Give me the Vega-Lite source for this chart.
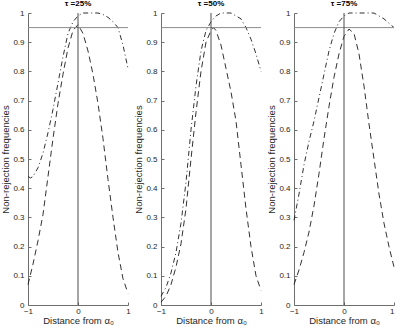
{
  "$schema": "https://vega.github.io/schema/vega-lite/v6.json",
  "padding": {"left": 0, "top": 0, "right": 0, "bottom": 0},
  "background": "white",
  "datasets": {
    "curves": [
      {"p":"25","s":"dash","x":-1,"y":0.07},{"p":"25","s":"dash","x":-0.9,"y":0.14},{"p":"25","s":"dash","x":-0.8,"y":0.22},{"p":"25","s":"dash","x":-0.7,"y":0.31},{"p":"25","s":"dash","x":-0.6,"y":0.44},{"p":"25","s":"dash","x":-0.5,"y":0.57},{"p":"25","s":"dash","x":-0.4,"y":0.69},{"p":"25","s":"dash","x":-0.3,"y":0.79},{"p":"25","s":"dash","x":-0.2,"y":0.88},{"p":"25","s":"dash","x":-0.1,"y":0.94},{"p":"25","s":"dash","x":0,"y":0.96},{"p":"25","s":"dash","x":0.1,"y":0.93},{"p":"25","s":"dash","x":0.2,"y":0.87},{"p":"25","s":"dash","x":0.3,"y":0.79},{"p":"25","s":"dash","x":0.4,"y":0.69},{"p":"25","s":"dash","x":0.5,"y":0.57},{"p":"25","s":"dash","x":0.6,"y":0.43},{"p":"25","s":"dash","x":0.7,"y":0.30},{"p":"25","s":"dash","x":0.8,"y":0.18},{"p":"25","s":"dash","x":0.9,"y":0.09},{"p":"25","s":"dash","x":1,"y":0.04},
      {"p":"25","s":"dashdot","x":-1,"y":0.44},{"p":"25","s":"dashdot","x":-0.95,"y":0.435},{"p":"25","s":"dashdot","x":-0.9,"y":0.44},{"p":"25","s":"dashdot","x":-0.8,"y":0.47},{"p":"25","s":"dashdot","x":-0.7,"y":0.52},{"p":"25","s":"dashdot","x":-0.6,"y":0.59},{"p":"25","s":"dashdot","x":-0.5,"y":0.67},{"p":"25","s":"dashdot","x":-0.4,"y":0.76},{"p":"25","s":"dashdot","x":-0.3,"y":0.85},{"p":"25","s":"dashdot","x":-0.2,"y":0.93},{"p":"25","s":"dashdot","x":-0.1,"y":0.97},{"p":"25","s":"dashdot","x":0,"y":0.99},{"p":"25","s":"dashdot","x":0.1,"y":1.0},{"p":"25","s":"dashdot","x":0.2,"y":1.0},{"p":"25","s":"dashdot","x":0.3,"y":1.0},{"p":"25","s":"dashdot","x":0.4,"y":1.0},{"p":"25","s":"dashdot","x":0.5,"y":0.995},{"p":"25","s":"dashdot","x":0.6,"y":0.985},{"p":"25","s":"dashdot","x":0.7,"y":0.97},{"p":"25","s":"dashdot","x":0.8,"y":0.95},{"p":"25","s":"dashdot","x":0.9,"y":0.89},{"p":"25","s":"dashdot","x":1,"y":0.81},
      {"p":"50","s":"dash","x":-1,"y":0.01},{"p":"50","s":"dash","x":-0.9,"y":0.03},{"p":"50","s":"dash","x":-0.8,"y":0.07},{"p":"50","s":"dash","x":-0.7,"y":0.13},{"p":"50","s":"dash","x":-0.6,"y":0.21},{"p":"50","s":"dash","x":-0.5,"y":0.33},{"p":"50","s":"dash","x":-0.4,"y":0.50},{"p":"50","s":"dash","x":-0.3,"y":0.66},{"p":"50","s":"dash","x":-0.2,"y":0.80},{"p":"50","s":"dash","x":-0.1,"y":0.90},{"p":"50","s":"dash","x":0,"y":0.94},{"p":"50","s":"dash","x":0.05,"y":0.95},{"p":"50","s":"dash","x":0.1,"y":0.94},{"p":"50","s":"dash","x":0.2,"y":0.89},{"p":"50","s":"dash","x":0.3,"y":0.81},{"p":"50","s":"dash","x":0.4,"y":0.73},{"p":"50","s":"dash","x":0.5,"y":0.63},{"p":"50","s":"dash","x":0.6,"y":0.48},{"p":"50","s":"dash","x":0.7,"y":0.33},{"p":"50","s":"dash","x":0.8,"y":0.20},{"p":"50","s":"dash","x":0.9,"y":0.10},{"p":"50","s":"dash","x":1,"y":0.05},
      {"p":"50","s":"dashdot","x":-1,"y":0.03},{"p":"50","s":"dashdot","x":-0.9,"y":0.06},{"p":"50","s":"dashdot","x":-0.8,"y":0.11},{"p":"50","s":"dashdot","x":-0.7,"y":0.18},{"p":"50","s":"dashdot","x":-0.6,"y":0.28},{"p":"50","s":"dashdot","x":-0.5,"y":0.42},{"p":"50","s":"dashdot","x":-0.4,"y":0.60},{"p":"50","s":"dashdot","x":-0.3,"y":0.75},{"p":"50","s":"dashdot","x":-0.2,"y":0.87},{"p":"50","s":"dashdot","x":-0.1,"y":0.94},{"p":"50","s":"dashdot","x":0,"y":0.97},{"p":"50","s":"dashdot","x":0.1,"y":0.99},{"p":"50","s":"dashdot","x":0.2,"y":1.0},{"p":"50","s":"dashdot","x":0.3,"y":1.0},{"p":"50","s":"dashdot","x":0.4,"y":1.0},{"p":"50","s":"dashdot","x":0.5,"y":0.99},{"p":"50","s":"dashdot","x":0.6,"y":0.98},{"p":"50","s":"dashdot","x":0.7,"y":0.95},{"p":"50","s":"dashdot","x":0.8,"y":0.91},{"p":"50","s":"dashdot","x":0.9,"y":0.86},{"p":"50","s":"dashdot","x":1,"y":0.80},
      {"p":"75","s":"dash","x":-1,"y":0.07},{"p":"75","s":"dash","x":-0.9,"y":0.12},{"p":"75","s":"dash","x":-0.8,"y":0.18},{"p":"75","s":"dash","x":-0.7,"y":0.25},{"p":"75","s":"dash","x":-0.6,"y":0.34},{"p":"75","s":"dash","x":-0.5,"y":0.45},{"p":"75","s":"dash","x":-0.4,"y":0.57},{"p":"75","s":"dash","x":-0.3,"y":0.68},{"p":"75","s":"dash","x":-0.2,"y":0.78},{"p":"75","s":"dash","x":-0.1,"y":0.86},{"p":"75","s":"dash","x":0,"y":0.92},{"p":"75","s":"dash","x":0.1,"y":0.945},{"p":"75","s":"dash","x":0.2,"y":0.93},{"p":"75","s":"dash","x":0.3,"y":0.86},{"p":"75","s":"dash","x":0.4,"y":0.75},{"p":"75","s":"dash","x":0.5,"y":0.62},{"p":"75","s":"dash","x":0.6,"y":0.50},{"p":"75","s":"dash","x":0.7,"y":0.38},{"p":"75","s":"dash","x":0.8,"y":0.28},{"p":"75","s":"dash","x":0.9,"y":0.20},{"p":"75","s":"dash","x":1,"y":0.13},
      {"p":"75","s":"dashdot","x":-1,"y":0.29},{"p":"75","s":"dashdot","x":-0.9,"y":0.38},{"p":"75","s":"dashdot","x":-0.8,"y":0.48},{"p":"75","s":"dashdot","x":-0.7,"y":0.56},{"p":"75","s":"dashdot","x":-0.6,"y":0.63},{"p":"75","s":"dashdot","x":-0.5,"y":0.71},{"p":"75","s":"dashdot","x":-0.4,"y":0.79},{"p":"75","s":"dashdot","x":-0.3,"y":0.87},{"p":"75","s":"dashdot","x":-0.2,"y":0.93},{"p":"75","s":"dashdot","x":-0.1,"y":0.97},{"p":"75","s":"dashdot","x":0,"y":0.99},{"p":"75","s":"dashdot","x":0.1,"y":1.0},{"p":"75","s":"dashdot","x":0.2,"y":1.0},{"p":"75","s":"dashdot","x":0.3,"y":1.0},{"p":"75","s":"dashdot","x":0.4,"y":1.0},{"p":"75","s":"dashdot","x":0.5,"y":1.0},{"p":"75","s":"dashdot","x":0.6,"y":1.0},{"p":"75","s":"dashdot","x":0.7,"y":0.99},{"p":"75","s":"dashdot","x":0.8,"y":0.98},{"p":"75","s":"dashdot","x":0.9,"y":0.965},{"p":"75","s":"dashdot","x":1,"y":0.95}
    ]
  },
  "spacing": 33,
  "bounds": "flush",
  "hconcat": [
    {
      "width": 100, "height": 292,
      "title": {"text": "τ =25%", "frame": "group"},
      "layer": [
        {"data": {"name": "curves"}, "transform": [{"filter": "datum.p == '25'"}],
         "mark": {"type": "line", "color": "#1a1a1a", "strokeWidth": 0.9},
         "encoding": {
           "x": {"field": "x", "type": "quantitative", "scale": {"domain": [-1, 1], "nice": false}, "axis": {"values": [-1, 0, 1], "format": "~g", "title": "Distance from α₀", "labelOverlap": false}},
           "y": {"field": "y", "type": "quantitative", "scale": {"domain": [0, 1], "nice": false}, "axis": {"values": [0,0.1,0.2,0.3,0.4,0.5,0.6,0.7,0.8,0.9,1], "format": "~g", "title": "Non-rejection frequencies", "labelOverlap": false, "tickCount": 11}},
           "strokeDash": {"field": "s", "type": "nominal", "scale": {"domain": ["dash", "dashdot"], "range": [[6, 4], [5, 3, 1, 3]]}, "legend": null}
         }},
        {"data": {"values": [{}]}, "mark": {"type": "rule", "color": "#8c8c8c", "strokeWidth": 1}, "encoding": {"y": {"datum": 0.95, "type": "quantitative"}}},
        {"data": {"values": [{}]}, "mark": {"type": "rule", "color": "#4d4d4d", "strokeWidth": 1}, "encoding": {"x": {"datum": 0, "type": "quantitative"}}}
      ]
    },
    {
      "width": 100, "height": 292,
      "title": {"text": "τ =50%", "frame": "group"},
      "layer": [
        {"data": {"name": "curves"}, "transform": [{"filter": "datum.p == '50'"}],
         "mark": {"type": "line", "color": "#1a1a1a", "strokeWidth": 0.9},
         "encoding": {
           "x": {"field": "x", "type": "quantitative", "scale": {"domain": [-1, 1], "nice": false}, "axis": {"values": [-1, 0, 1], "format": "~g", "title": "Distance from α₀", "labelOverlap": false}},
           "y": {"field": "y", "type": "quantitative", "scale": {"domain": [0, 1], "nice": false}, "axis": {"values": [0,0.1,0.2,0.3,0.4,0.5,0.6,0.7,0.8,0.9,1], "format": "~g", "title": "Non-rejection frequencies", "labelOverlap": false, "tickCount": 11}},
           "strokeDash": {"field": "s", "type": "nominal", "scale": {"domain": ["dash", "dashdot"], "range": [[6, 4], [5, 3, 1, 3]]}, "legend": null}
         }},
        {"data": {"values": [{}]}, "mark": {"type": "rule", "color": "#8c8c8c", "strokeWidth": 1}, "encoding": {"y": {"datum": 0.95, "type": "quantitative"}}},
        {"data": {"values": [{}]}, "mark": {"type": "rule", "color": "#4d4d4d", "strokeWidth": 1}, "encoding": {"x": {"datum": 0, "type": "quantitative"}}}
      ]
    },
    {
      "width": 100, "height": 292,
      "title": {"text": "τ =75%", "frame": "group"},
      "layer": [
        {"data": {"name": "curves"}, "transform": [{"filter": "datum.p == '75'"}],
         "mark": {"type": "line", "color": "#1a1a1a", "strokeWidth": 0.9},
         "encoding": {
           "x": {"field": "x", "type": "quantitative", "scale": {"domain": [-1, 1], "nice": false}, "axis": {"values": [-1, 0, 1], "format": "~g", "title": "Distance from α₀", "labelOverlap": false, "labelAlign": {"expr": "datum.value == 1 ? 'right' : 'center'"}}},
           "y": {"field": "y", "type": "quantitative", "scale": {"domain": [0, 1], "nice": false}, "axis": {"values": [0,0.1,0.2,0.3,0.4,0.5,0.6,0.7,0.8,0.9,1], "format": "~g", "title": "Non-rejection frequencies", "labelOverlap": false, "tickCount": 11}},
           "strokeDash": {"field": "s", "type": "nominal", "scale": {"domain": ["dash", "dashdot"], "range": [[6, 4], [5, 3, 1, 3]]}, "legend": null}
         }},
        {"data": {"values": [{}]}, "mark": {"type": "rule", "color": "#8c8c8c", "strokeWidth": 1}, "encoding": {"y": {"datum": 0.95, "type": "quantitative"}}},
        {"data": {"values": [{}]}, "mark": {"type": "rule", "color": "#4d4d4d", "strokeWidth": 1}, "encoding": {"x": {"datum": 0, "type": "quantitative"}}}
      ]
    }
  ],
  "config": {
    "view": {"stroke": null},
    "font": "Liberation Sans",
    "title": {"font": "Liberation Sans", "fontSize": 8, "fontWeight": "bold", "color": "#000000", "offset": 1, "baseline": "alphabetic"},
    "axis": {
      "grid": false,
      "domainColor": "#6e6e6e",
      "tickColor": "#6e6e6e",
      "tickSize": -3,
      "labelPadding": 7,
      "labelFont": "Liberation Sans",
      "labelFontSize": 8,
      "labelColor": "#262626",
      "labelFlush": false,
      "labelOverlap": false,
      "titleFont": "Liberation Sans",
      "titleFontSize": 9.5,
      "titleFontWeight": "normal",
      "titleColor": "#262626",
      "titlePadding": 2
    },
    "axisX": {"titlePadding": 0, "labelPadding": 5}
  }
}
